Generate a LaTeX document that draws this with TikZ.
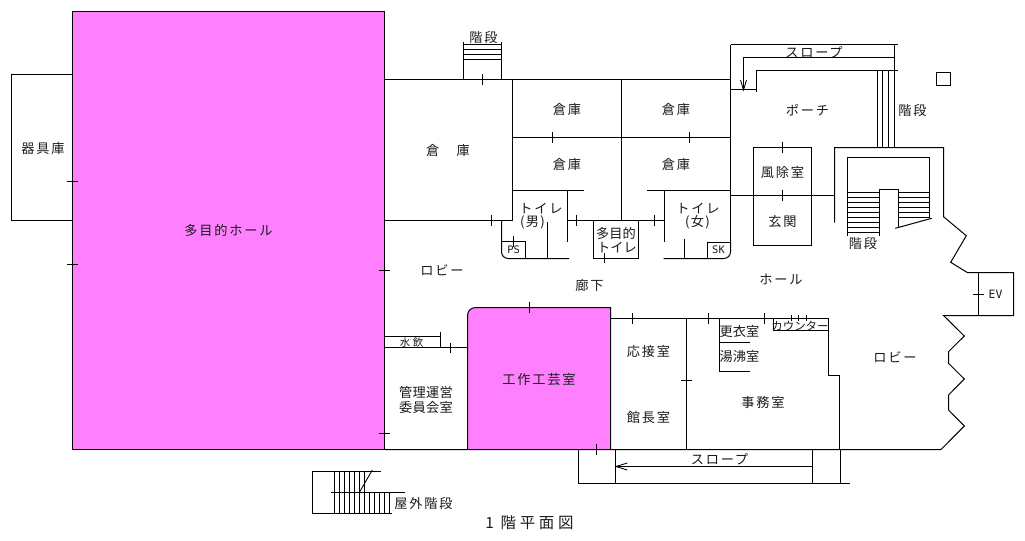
\documentclass[tikz,border=0pt]{standalone}
\usepackage{fontspec}
\setmainfont{Noto Sans CJK JP}
\newfontfamily\latmono{DejaVu Sans Mono}
\definecolor{hallpink}{HTML}{FF80FF}
\definecolor{ink}{HTML}{1A1A1A}
\newcommand{\wide}{\fontsize{9.9}{11}\selectfont\addfontfeature{LetterSpace=13.5}}
\newcommand{\tight}{\fontsize{9.9}{11.2}\selectfont\addfontfeature{LetterSpace=2.5}}
\newcommand{\close}{\fontsize{9.9}{10.8}\selectfont\addfontfeature{LetterSpace=1}}
\tikzset{
  wall/.style={line width=0.75pt,black,line cap=butt,line join=miter},
  thin wall/.style={line width=0.65pt,black},
  room/.style={inner sep=0pt,outer sep=0pt,text=ink,font=\wide,align=center},
  tightroom/.style={room,font=\tight},
  closeroom/.style={room,font=\close},
  smalllab/.style={inner sep=0pt,text=ink,font=\latmono\fontsize{7.8}{9}\selectfont},
}
\begin{document}
\begin{tikzpicture}[x=0.75pt,y=-0.75pt]
\useasboundingbox (0,0) rectangle (1025,540);
% fills and main rooms
\draw[wall,fill=hallpink] (72.5,11.5) rectangle (384.5,449.5);
\fill[hallpink] (467.5,449.5)--(467.5,315.5) arc[start angle=180,end angle=270,radius=8]--(610.5,307.5)--(610.5,449.5)--cycle;
\draw[wall] (467.5,449.5)--(467.5,315.5) arc[start angle=180,end angle=270,radius=8]--(610.5,307.5)--(610.5,449.5);
\draw[wall] (72.5,74.5)--(11.5,74.5)--(11.5,220.5)--(72.5,220.5);
\foreach \y in {181.5,264.5}{\draw[wall] (67,\y)--(78,\y);}
\foreach \y in {270.5,433.5}{\draw[wall] (379,\y)--(390,\y);}
% upper wing
\draw[wall] (384.5,79.5)--(730.5,79.5);
\draw[wall] (384.5,220.5)--(512.5,220.5);
\draw[wall] (512.5,79.5)--(512.5,220.5);
\draw[wall] (621.5,79.5)--(621.5,220.5);
\draw[wall] (512.5,137.5)--(730.5,137.5);
\draw[wall] (512.5,190.5)--(584,190.5);
\draw[wall] (647,190.5)--(730.5,190.5);
\foreach \x in {552.5,689.5}{\draw[wall] (\x,132)--(\x,143);}
% top stair
\draw[wall] (463.5,42)--(463.5,79.5);
\draw[wall] (501.5,42)--(501.5,79.5);
\foreach \y in {44.5,49.5,54.5,59.5}{\draw[wall] (463.5,\y)--(501.5,\y);}
\draw[wall] (482.5,74)--(482.5,85);
\draw[wall] (491.5,215)--(491.5,226);
% toilets
\draw[wall] (567.5,190.5)--(567.5,241.5);
\draw[wall] (664.5,190.5)--(664.5,241.5);
\draw[wall] (567.5,220.5)--(664.5,220.5);
\draw[wall] (576.5,215)--(576.5,226);
\draw[wall] (654.5,215)--(654.5,226);
\draw[wall] (593.5,220.5)--(593.5,258.5)--(638.5,258.5)--(638.5,220.5);
\draw[wall] (604.5,253)--(604.5,263);
\draw[wall,rounded corners=5pt] (501.5,220.5)--(501.5,258.5)--(569,258.5);
\draw[wall] (501.5,241.5)--(525.5,241.5)--(525.5,258.5);
\draw[wall] (513.5,236)--(513.5,246.5);
\draw[wall] (547.5,222)--(547.5,258.5);
\draw[wall,rounded corners=5pt] (730.5,240)--(730.5,258.5)--(663.5,258.5);
\draw[wall] (730.5,44.5)--(730.5,241);
\draw[wall] (684.5,238.5)--(684.5,258.5);
\draw[wall] (730.5,242.5)--(707.5,242.5)--(707.5,258.5);
% slope top
\draw[wall] (730.5,44.5)--(898,44.5);
\draw[wall] (894.5,44.5)--(894.5,147.5);
\draw[wall] (743.5,90)--(743.5,57.5)--(894.5,57.5);
\draw[wall] (756.5,91.5)--(756.5,70.5)--(898,70.5);
\draw[wall] (730.5,89.5)--(756.5,89.5);
\draw[thin wall] (740.5,80)--(743.5,90)--(746.5,80);
\foreach \x in {877.5,882.5,888.5}{\draw[wall] (\x,70.5)--(\x,147.5);}
\draw[wall] (936.5,72.5) rectangle (950.5,85.5);
% entrance
\draw[wall] (753.5,147.5) rectangle (811.5,245.5);
\draw[wall] (730.5,195.5)--(834.5,195.5);
\draw[wall] (782.5,142)--(782.5,152.5);
\draw[wall] (782.5,190)--(782.5,200.5);
% stair hall and east zigzag
\draw[wall] (834.5,222.5)--(834.5,147.5)--(943.5,147.5)--(943.5,216.7)--(966.3,235.7)--(950.7,262.3)--(967.3,272.5)--(1013.5,272.5)--(1013.5,315.5)--(943.5,315.5)--(964.3,336)--(948.5,351.7)--(948.5,363.3)--(964.3,379)--(948.5,395)--(948.5,410)--(964.3,426)--(941,449.5)--(384.5,449.5);
\draw[wall] (978.5,272.5)--(978.5,315.5);
\draw[wall] (973,294.5)--(984,294.5);
\draw[wall] (847.5,235.5)--(847.5,157.5)--(929.5,157.5)--(929.5,218.3);
\draw[wall] (879.5,235.5)--(879.5,189.5)--(898.5,189.5)--(898.5,227.5);
\foreach \y in {192.5,197.5,202.5,207.5,212.5,217.5,222.5,227.5,232.5}{\draw[wall] (847.5,\y)--(879.5,\y);}
\foreach \y in {192.5,197.5,202.5,207.5,212.5,217.5}{\draw[wall] (898.5,\y)--(929.5,\y);}
\draw[wall] (895.3,228.3)--(931.7,218.3);
% lower wing
\draw[wall] (384.5,347.5)--(467.5,347.5);
\draw[wall] (384.5,336.5)--(440.5,336.5);
\draw[wall] (440.5,331.5)--(440.5,347.5);
\draw[wall] (450.5,343)--(450.5,352.5);
\draw[wall] (529.5,302)--(529.5,313);
\draw[wall] (610.5,318.5)--(828.5,318.5)--(828.5,375.5)--(839.5,375.5)--(839.5,449.5);
\draw[wall] (686.5,318.5)--(686.5,449.5);
\draw[wall] (681,380.5)--(692,380.5);
\foreach \x in {632.5,708.5,764.5}{\draw[wall] (\x,313)--(\x,324);}
\foreach \x in {791.5,798.5,806.5}{\draw[wall] (\x,315)--(\x,321);}
\draw[wall] (750,342.5)--(719.5,342.5);
\draw[wall] (750,371.5)--(719.5,371.5)--(719.5,318.5);
\draw[wall] (773.5,318.5)--(773.5,330.5)--(828.5,330.5);
% south slope
\draw[wall] (578.5,449.5)--(578.5,483.5)--(850,483.5);
\draw[wall] (615.5,449.5)--(615.5,483.5);
\draw[wall] (615.5,466.5)--(812.5,466.5);
\draw[wall] (812.5,449.5)--(812.5,483.5);
\draw[wall] (840.5,449.5)--(840.5,483.5);
\draw[wall] (596.5,444)--(596.5,454.5);
\draw[thin wall] (627.3,463)--(616,466.5)--(627.3,470);
% outside stair
\draw[wall] (380.7,471.5)--(312.5,471.5)--(312.5,513.5)--(391.7,513.5);
\draw[wall] (331,492.5)--(405,492.5);
\foreach \x in {334.5,339.5,...,364.5}{\draw[wall] (\x,471.5)--(\x,492.5);}
\foreach \x in {334.5,339.5,...,389.5}{\draw[wall] (\x,492.5)--(\x,513.5);}
\draw[thin wall] (359.3,492.5)--(372.3,470);
% labels
\node[room] (hall) at (228.5,230) {多目的ホール};
\node[room] (kigu) at (43,148) {器具庫};
\node[room] (soko0) at (448,150) {倉\hspace{13pt}庫};
\node[room] (stair1) at (483.5,37) {階段};
\node[room] (soko1) at (567,109.5) {倉庫};
\node[room] (soko2) at (676,109.5) {倉庫};
\node[room] (soko3) at (567,164) {倉庫};
\node[room] (soko4) at (676,164) {倉庫};
\node[room] (wc1) at (541,209) {トイレ};
\node[room] (wc1b) at (532.5,222) {(\hspace{1pt}男\hspace{1pt})};
\node[room] (wc2) at (698,209) {トイレ};
\node[room] (wc2b) at (697.5,222) {(\hspace{1pt}女\hspace{1pt})};
\node[closeroom] (wc3a) at (616,233) {多目的};
\node[closeroom] (wc3b) at (617,247.5) {トイレ};
\node[smalllab] (ps) at (513.7,250) {PS};
\node[smalllab] (sk) at (718.5,250) {SK};
\node[room] (slope1) at (814,52) {スロープ};
\node[room] (porch) at (807.5,110) {ポーチ};
\node[room] (stair2) at (912.5,110) {階段};
\node[room] (fujo) at (782.5,172) {風除室};
\node[room] (genkan) at (782.5,221.5) {玄関};
\node[room] (stair3) at (863,243) {階段};
\node[room] (lobby1) at (442,270) {ロビー};
\node[room] (rouka) at (589.5,285) {廊下};
\node[room] (hole) at (781,279.5) {ホール};
\node[smalllab,font=\latmono\fontsize{8.6}{10}\selectfont] (ev) at (995.5,294.5) {EV};
\node[room] (lobby2) at (895,357) {ロビー};
\node[tightroom,font=\fontsize{7.8}{9}\selectfont] (mizu) at (411.5,342.5) {水\hspace{2pt}飲};
\node[tightroom] (kanri) at (426,400) {管理運営\\委員会室};
\node[room] (kosaku) at (539,379.5) {工作工芸室};
\node[room] (osetsu) at (648.5,351.5) {応接室};
\node[room] (kancho) at (648.5,417.5) {館長室};
\node[room] (jimu) at (763,402) {事務室};
\node[tightroom,font=\fontsize{9.9}{10}\selectfont] (kotai) at (739.5,331.5) {更衣室};
\node[tightroom,font=\fontsize{9.9}{10}\selectfont] (yuwa) at (739.5,356.5) {湯沸室};
\node[tightroom,font=\fontsize{8.6}{10}\selectfont] (counter) at (800,326) {カウンター};
\node[room] (slope2) at (719.5,459) {スロープ};
\node[room] (okugai) at (423.5,503.5) {屋外階段};
\node[room,font=\fontsize{11.6}{13}\selectfont\addfontfeature{LetterSpace=24}] (title) at (529.5,523) {1\hspace{5pt}階平面図};
\end{tikzpicture}
\end{document}
